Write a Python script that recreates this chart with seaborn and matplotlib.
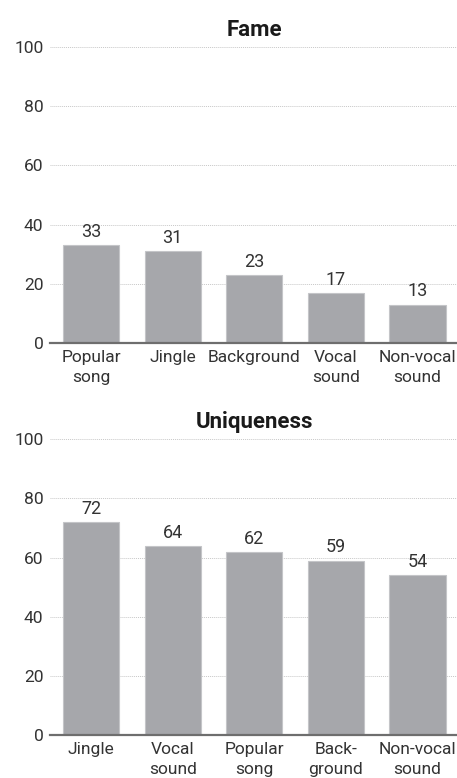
import matplotlib
matplotlib.use("Agg")
import matplotlib.pyplot as plt
import seaborn as sns
import pandas as pd

# Survey scores for each type of audio cue
fame_labels = ["Popular\nsong", "Jingle", "Background", "Vocal\nsound", "Non-vocal\nsound"]
fame_values = [33, 31, 23, 17, 13]

unique_labels = ["Jingle", "Vocal\nsound", "Popular\nsong", "Back-\nground", "Non-vocal\nsound"]
unique_values = [72, 64, 62, 59, 54]

y_ticks = [0, 20, 40, 60, 80, 100]

sns.set_theme(style="white")
plt.rcParams["font.family"] = ["Roboto", "DejaVu Sans"]

BAR = "#a6a7ab"
TEXT = "#333333"

fig = plt.figure(figsize=(4.57, 7.78), dpi=100)
ax_top = fig.add_axes([0.110, 0.5591, 0.893, 0.3805])
ax_bot = fig.add_axes([0.110, 0.0549, 0.893, 0.3805])


def draw_panel(ax, labels, values, title):
    df = pd.DataFrame({"cue": labels, "score": values})
    sns.barplot(data=df, x="cue", y="score", order=labels, color=BAR,
                saturation=1, width=0.69, edgecolor="#c4c5c8", linewidth=0.8,
                ax=ax, zorder=3)
    ax.set_ylim(0, 100)
    ax.set_xlim(-0.5, len(labels) - 0.5)
    ax.set_yticks(y_ticks)
    ax.yaxis.grid(True, linestyle=(0, (1, 1)), color="#c8c8c8", linewidth=0.7, zorder=0)
    ax.set_axisbelow(True)
    for side in ("top", "right", "left"):
        ax.spines[side].set_visible(False)
    ax.spines["bottom"].set_color("#6e6e6e")
    ax.spines["bottom"].set_linewidth(1.6)
    ax.spines["bottom"].set_zorder(4)
    ax.tick_params(axis="both", length=0, labelsize=12.5, colors=TEXT)
    ax.tick_params(axis="x", pad=5)
    ax.tick_params(axis="y", pad=5)
    for t in ax.get_xticklabels():
        t.set_linespacing(1.4)
    ax.set_xlabel("")
    ax.set_ylabel("")
    for i, v in enumerate(values):
        ax.annotate(f"{v}", (i, v), xytext=(0, 3), textcoords="offset points",
                    ha="center", va="bottom", fontsize=13, color=TEXT)
    ax.set_title(title, fontsize=16, fontweight="bold", color="#1a1a1a", pad=8)


draw_panel(ax_top, fame_labels, fame_values, "Fame")
draw_panel(ax_bot, unique_labels, unique_values, "Uniqueness")

fig.savefig("out.png", dpi=100)
